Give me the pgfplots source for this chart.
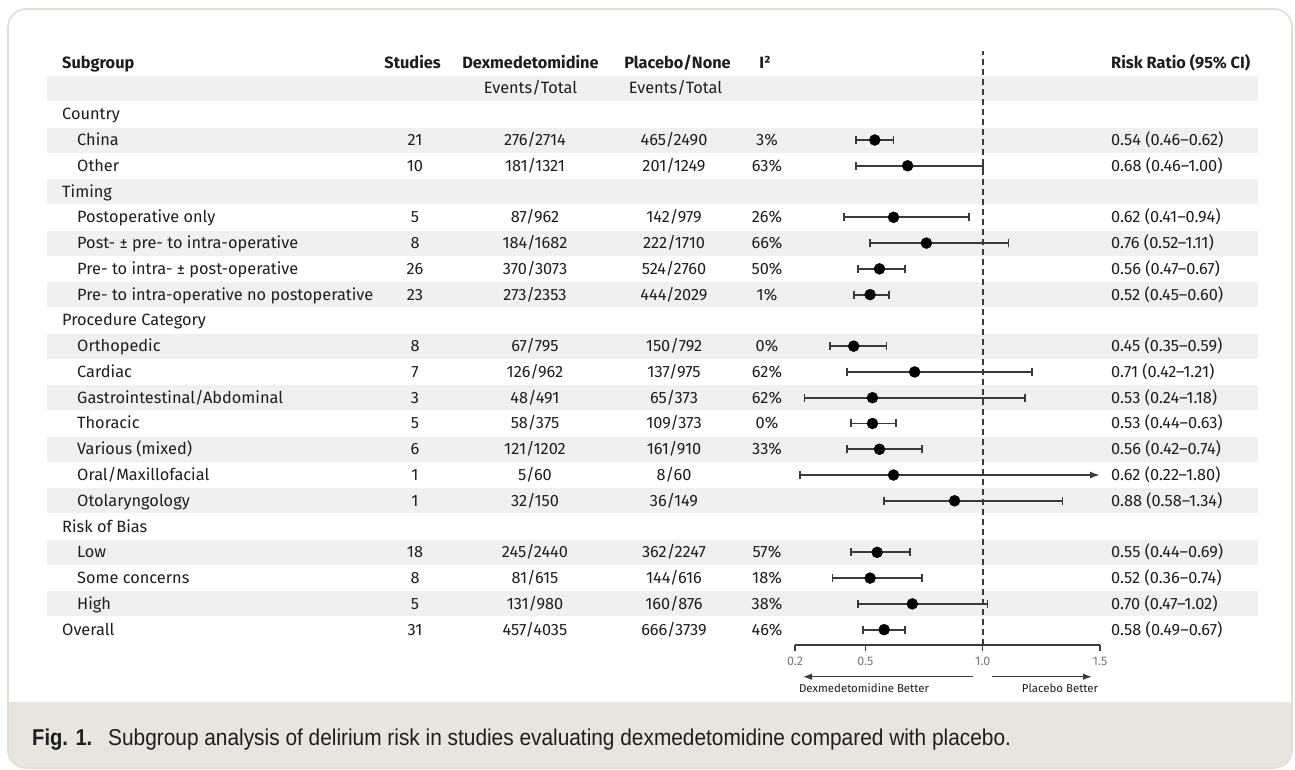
\documentclass[border=0pt]{standalone}
\usepackage{pgfplots}
\pgfplotsset{compat=1.18}
\usepackage{pgfplotstable}
\usepackage{fontspec}
\setmainfont{Fira Sans}
\newfontfamily\capfont[FakeStretch=0.91]{Liberation Sans}
\newfontfamily\capbold[FakeStretch=0.88]{Liberation Sans Bold}
\usetikzlibrary{arrows.meta}

\definecolor{band}{HTML}{EEF1EF}
\definecolor{txt}{HTML}{1E1E1E}
\definecolor{ln}{HTML}{3A3A3A}
\definecolor{capbg}{HTML}{E8E5DF}
\definecolor{frame}{HTML}{E2DED3}
\definecolor{tickc}{HTML}{7A7A7A}

% p = row position (20 = China ... 1 = Overall)
\pgfplotstableread{
p rr lo hi
20 0.54 0.46 0.62
19 0.68 0.46 1.00
17 0.62 0.41 0.94
16 0.76 0.52 1.11
15 0.56 0.47 0.67
14 0.52 0.45 0.60
12 0.45 0.35 0.59
11 0.71 0.42 1.21
10 0.53 0.24 1.18
9 0.53 0.44 0.63
8 0.56 0.42 0.74
6 0.88 0.58 1.34
4 0.55 0.44 0.69
3 0.52 0.36 0.74
2 0.70 0.47 1.02
1 0.58 0.49 0.67
}\forestdata

\pgfplotstableread{
p rr lo hi
7 0.62 0.22 1.80
}\oraldata

\tikzset{T/.style={inner sep=0pt, text=txt, font=\fontsize{16.4}{19}\selectfont}}

\newcommand\rowtxt[8]{%
  \pgfmathsetmacro\yy{-(145.5+(20-#1)*25.77)}%
  \node[T,anchor=base west] at (#2,\yy) {#3};%
  \node[T,anchor=base] at (415,\yy) {#4};%
  \node[T,anchor=base] at (535,\yy) {#5};%
  \node[T,anchor=base] at (674,\yy) {#6};%
  \node[T,anchor=base] at (767,\yy) {#7};%
  \node[T,anchor=base west] at (1111,\yy) {#8};%
}
\newcommand\bandrow[1]{%
  \pgfmathsetmacro\yc{-(140+(20-#1)*25.77)}%
  \fill[band] (47,\yc+12.5) rectangle (1258,\yc-12.5);%
}

\begin{document}
\begin{tikzpicture}[x=1bp,y=1bp]
\useasboundingbox (0,0) rectangle (1295,-770);
% caption band
\begin{scope}
\clip[rounded corners=18bp] (8,-9) rectangle (1292,-768);
\fill[white] (0,0) rectangle (1295,-770);
\fill[capbg] (0,-702) rectangle (1295,-770);
\end{scope}
\draw[frame, line width=1.6bp, rounded corners=18bp] (8,-9) rectangle (1292,-768);

% bands
\foreach \r in {22,20,18,16,14,12,10,8,6,4,2} {\bandrow{\r}}

% header
\pgfmathsetmacro\yh{-(145.5-3*25.77)}
\node[T,anchor=base west,font=\fontsize{16.4}{19}\selectfont\bfseries] at (62,\yh) {Subgroup};
\node[T,anchor=base east,font=\fontsize{16.4}{19}\selectfont\bfseries] at (441,\yh) {Studies};
\node[T,anchor=base,font=\fontsize{16.4}{19}\selectfont\bfseries] at (530.5,\yh) {Dexmedetomidine};
\node[T,anchor=base,font=\fontsize{16.4}{19}\selectfont\bfseries] at (677.5,\yh) {Placebo/None};
\node[T,anchor=base,font=\fontsize{16.4}{19}\selectfont\bfseries] at (765,\yh) {I²};
\node[T,anchor=base west,font=\fontsize{16.4}{19}\selectfont\bfseries] at (1111,\yh) {Risk Ratio (95\% CI)};
\pgfmathsetmacro\ye{-(145.5-2*25.77)}
\node[T,anchor=base] at (530.5,\ye) {Events/Total};
\node[T,anchor=base] at (675.5,\ye) {Events/Total};

\rowtxt{21}{62}{Country}{}{}{}{}{}
\rowtxt{20}{77}{China}{21}{276/2714}{465/2490}{3\%}{0.54 (0.46--0.62)}
\rowtxt{19}{77}{Other}{10}{181/1321}{201/1249}{63\%}{0.68 (0.46--1.00)}
\rowtxt{18}{62}{Timing}{}{}{}{}{}
\rowtxt{17}{77}{Postoperative only}{5}{87/962}{142/979}{26\%}{0.62 (0.41--0.94)}
\rowtxt{16}{77}{Post- ± pre- to intra-operative}{8}{184/1682}{222/1710}{66\%}{0.76 (0.52--1.11)}
\rowtxt{15}{77}{Pre- to intra- ± post-operative}{26}{370/3073}{524/2760}{50\%}{0.56 (0.47--0.67)}
\rowtxt{14}{77}{Pre- to intra-operative no postoperative}{23}{273/2353}{444/2029}{1\%}{0.52 (0.45--0.60)}
\rowtxt{13}{62}{Procedure Category}{}{}{}{}{}
\rowtxt{12}{77}{Orthopedic}{8}{67/795}{150/792}{0\%}{0.45 (0.35--0.59)}
\rowtxt{11}{77}{Cardiac}{7}{126/962}{137/975}{62\%}{0.71 (0.42--1.21)}
\rowtxt{10}{77}{Gastrointestinal/Abdominal}{3}{48/491}{65/373}{62\%}{0.53 (0.24--1.18)}
\rowtxt{9}{77}{Thoracic}{5}{58/375}{109/373}{0\%}{0.53 (0.44--0.63)}
\rowtxt{8}{77}{Various (mixed)}{6}{121/1202}{161/910}{33\%}{0.56 (0.42--0.74)}
\rowtxt{7}{77}{Oral/Maxillofacial}{1}{5/60}{8/60}{}{0.62 (0.22--1.80)}
\rowtxt{6}{77}{Otolaryngology}{1}{32/150}{36/149}{}{0.88 (0.58--1.34)}
\rowtxt{5}{62}{Risk of Bias}{}{}{}{}{}
\rowtxt{4}{77}{Low}{18}{245/2440}{362/2247}{57\%}{0.55 (0.44--0.69)}
\rowtxt{3}{77}{Some concerns}{8}{81/615}{144/616}{18\%}{0.52 (0.36--0.74)}
\rowtxt{2}{77}{High}{5}{131/980}{160/876}{38\%}{0.70 (0.47--1.02)}
\rowtxt{1}{62}{Overall}{31}{457/4035}{666/3739}{46\%}{0.58 (0.49--0.67)}

\begin{axis}[
  at={(795bp,-645.1bp)}, anchor=south west,
  scale only axis, width=305bp, height=594bp,
  xmin=0.2, xmax=1.5, ymin=0.4, ymax=23.45,
  clip=false,
  axis x line*=bottom, axis y line=none,
  x axis line style={ln, line width=1.4bp},
  xtick={0.2,0.5,1.0,1.5}, xticklabels={0.2,0.5,1.0,1.5},
  tick align=outside, major tick length=6bp,
  tick style={ln, line width=1.4bp},
  /pgf/number format/assume math mode=true,
  xticklabel style={font=\fontsize{12.5}{12.5}\selectfont, text=tickc, inner sep=2bp, yshift=-3.5bp},
  ytick=\empty,
]
\draw[ln, line width=1.8bp, dash pattern=on 6bp off 4bp] (axis cs:1,0.4) -- (axis cs:1,23.45);
\addplot[ln, line width=1.8bp, -{Latex[length=10bp,width=7bp]}] coordinates {(0.62,7) (1.5,7)};
\addplot[only marks, mark=*, mark size=5.5bp, mark options={fill=black, draw=black},
  error bars/.cd, x dir=both, x explicit,
  error bar style={ln, line width=1.8bp},
  error mark options={ln, line width=1.8bp, mark size=4bp, rotate=90}]
  table[x=rr, y=p, x error plus expr=\thisrow{hi}-\thisrow{rr}, x error minus expr=\thisrow{rr}-\thisrow{lo}] {\forestdata};
\addplot[only marks, mark=*, mark size=5.5bp, mark options={fill=black, draw=black},
  error bars/.cd, x dir=minus, x explicit,
  error bar style={ln, line width=1.8bp},
  error mark options={ln, line width=1.8bp, mark size=4bp, rotate=90}]
  table[x=rr, y=p, x error minus expr=\thisrow{rr}-\thisrow{lo}] {\oraldata};
\end{axis}

% direction arrows
\draw[ln, line width=1.4bp, -{Latex[length=9bp,width=6.5bp]}] (973,-676.7) -- (803,-676.7);
\draw[ln, line width=1.4bp, -{Latex[length=9bp,width=6.5bp]}] (992,-676.7) -- (1092,-676.7);
\node[T,anchor=base,font=\fontsize{11.5}{12}\selectfont] at (864,-692) {Dexmedetomidine Better};
\node[T,anchor=base,font=\fontsize{11.5}{12}\selectfont] at (1060,-692) {Placebo Better};

% caption
\node[inner sep=0pt, anchor=base west, text=txt, font=\capbold\fontsize{23}{24}\selectfont] at (32,-745) {Fig. 1.};
\node[inner sep=0pt, anchor=base west, text=txt, font=\capfont\fontsize{23}{24}\selectfont] at (108,-745) {Subgroup analysis of delirium risk in studies evaluating dexmedetomidine compared with placebo.};
\end{tikzpicture}
\end{document}
